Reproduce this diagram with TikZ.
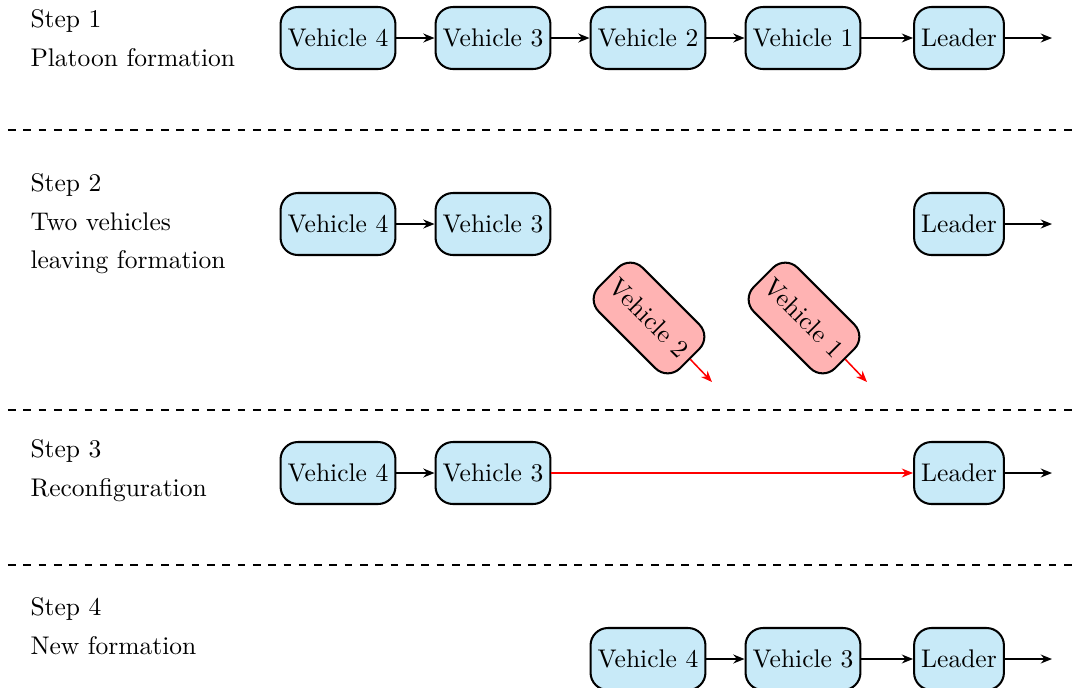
\documentclass[tikz,border=0pt]{standalone}
\usetikzlibrary{arrows.meta}
\definecolor{vblue}{RGB}{200,234,248}
\definecolor{vred}{RGB}{255,179,179}
\begin{document}
\begin{tikzpicture}[x=0.392pt,y=-0.392pt,
  veh/.style={draw,line width=0.8pt,rounded corners=6.8pt,fill=vblue,minimum height=24.3pt,inner xsep=2.8pt,inner ysep=0pt},
  leave/.style={veh,fill=vred,rotate=-45},
  link/.style={semithick,-{Stealth[length=4.4pt,width=3.5pt]}},
  redlink/.style={link,red},
  sep/.style={dashed,semithick},
  lbl/.style={anchor=base west,inner sep=0pt}]
\useasboundingbox (0,0) rectangle (1078,688);
% Step 1
\node[lbl] (s1a) at (30,27) {Step 1};
\node[lbl] (s1b) at (30,66) {Platoon formation};
\node[veh] (a4) at (338,38) {Vehicle 4};
\node[veh] (a3) at (493,38) {Vehicle 3};
\node[veh] (a2) at (648,38) {Vehicle 2};
\node[veh] (a1) at (803,38) {Vehicle 1};
\node[veh] (aL) at (959,38) {Leader};
\coordinate (ao) at (1052,38);
\draw[link] (a4) -- (a3);
\draw[link] (a3) -- (a2);
\draw[link] (a2) -- (a1);
\draw[link] (a1) -- (aL);
\draw[link] (aL) -- (ao);
\coordinate (d1a) at (8,130); \coordinate (d1b) at (1078,130);
\draw[sep] (d1a) -- (d1b);
% Step 2
\node[lbl] (s2a) at (30,191) {Step 2};
\node[lbl] (s2b) at (30,230) {Two vehicles};
\node[lbl] (s2c) at (30,268) {leaving formation};
\node[veh] (b4) at (338,224) {Vehicle 4};
\node[veh] (b3) at (493,224) {Vehicle 3};
\node[veh] (bL) at (959,224) {Leader};
\coordinate (bo) at (1052,224);
\draw[link] (b4) -- (b3);
\draw[link] (bL) -- (bo);
\node[leave] (b2) at (649,318) {Vehicle 2};
\node[leave] (b1) at (804,318) {Vehicle 1};
\coordinate (b2o) at (712,382);
\coordinate (b1o) at (867,382);
\draw[redlink] (b2.east) -- (b2o);
\draw[redlink] (b1.east) -- (b1o);
\coordinate (d2a) at (8,410); \coordinate (d2b) at (1078,410);
\draw[sep] (d2a) -- (d2b);
% Step 3
\node[lbl] (s3a) at (30,457) {Step 3};
\node[lbl] (s3b) at (30,496) {Reconfiguration};
\node[veh] (c4) at (338,473) {Vehicle 4};
\node[veh] (c3) at (493,473) {Vehicle 3};
\node[veh] (cL) at (959,473) {Leader};
\coordinate (co) at (1052,473);
\draw[link] (c4) -- (c3);
\draw[redlink] (c3) -- (cL);
\draw[link] (cL) -- (co);
\coordinate (d3a) at (8,565); \coordinate (d3b) at (1078,565);
\draw[sep] (d3a) -- (d3b);
% Step 4
\node[lbl] (s4a) at (30,615) {Step 4};
\node[lbl] (s4b) at (30,654) {New formation};
\node[veh] (e4) at (648,659) {Vehicle 4};
\node[veh] (e3) at (803,659) {Vehicle 3};
\node[veh] (eL) at (959,659) {Leader};
\coordinate (eo) at (1052,659);
\draw[link] (e4) -- (e3);
\draw[link] (e3) -- (eL);
\draw[link] (eL) -- (eo);
\end{tikzpicture}
\end{document}
